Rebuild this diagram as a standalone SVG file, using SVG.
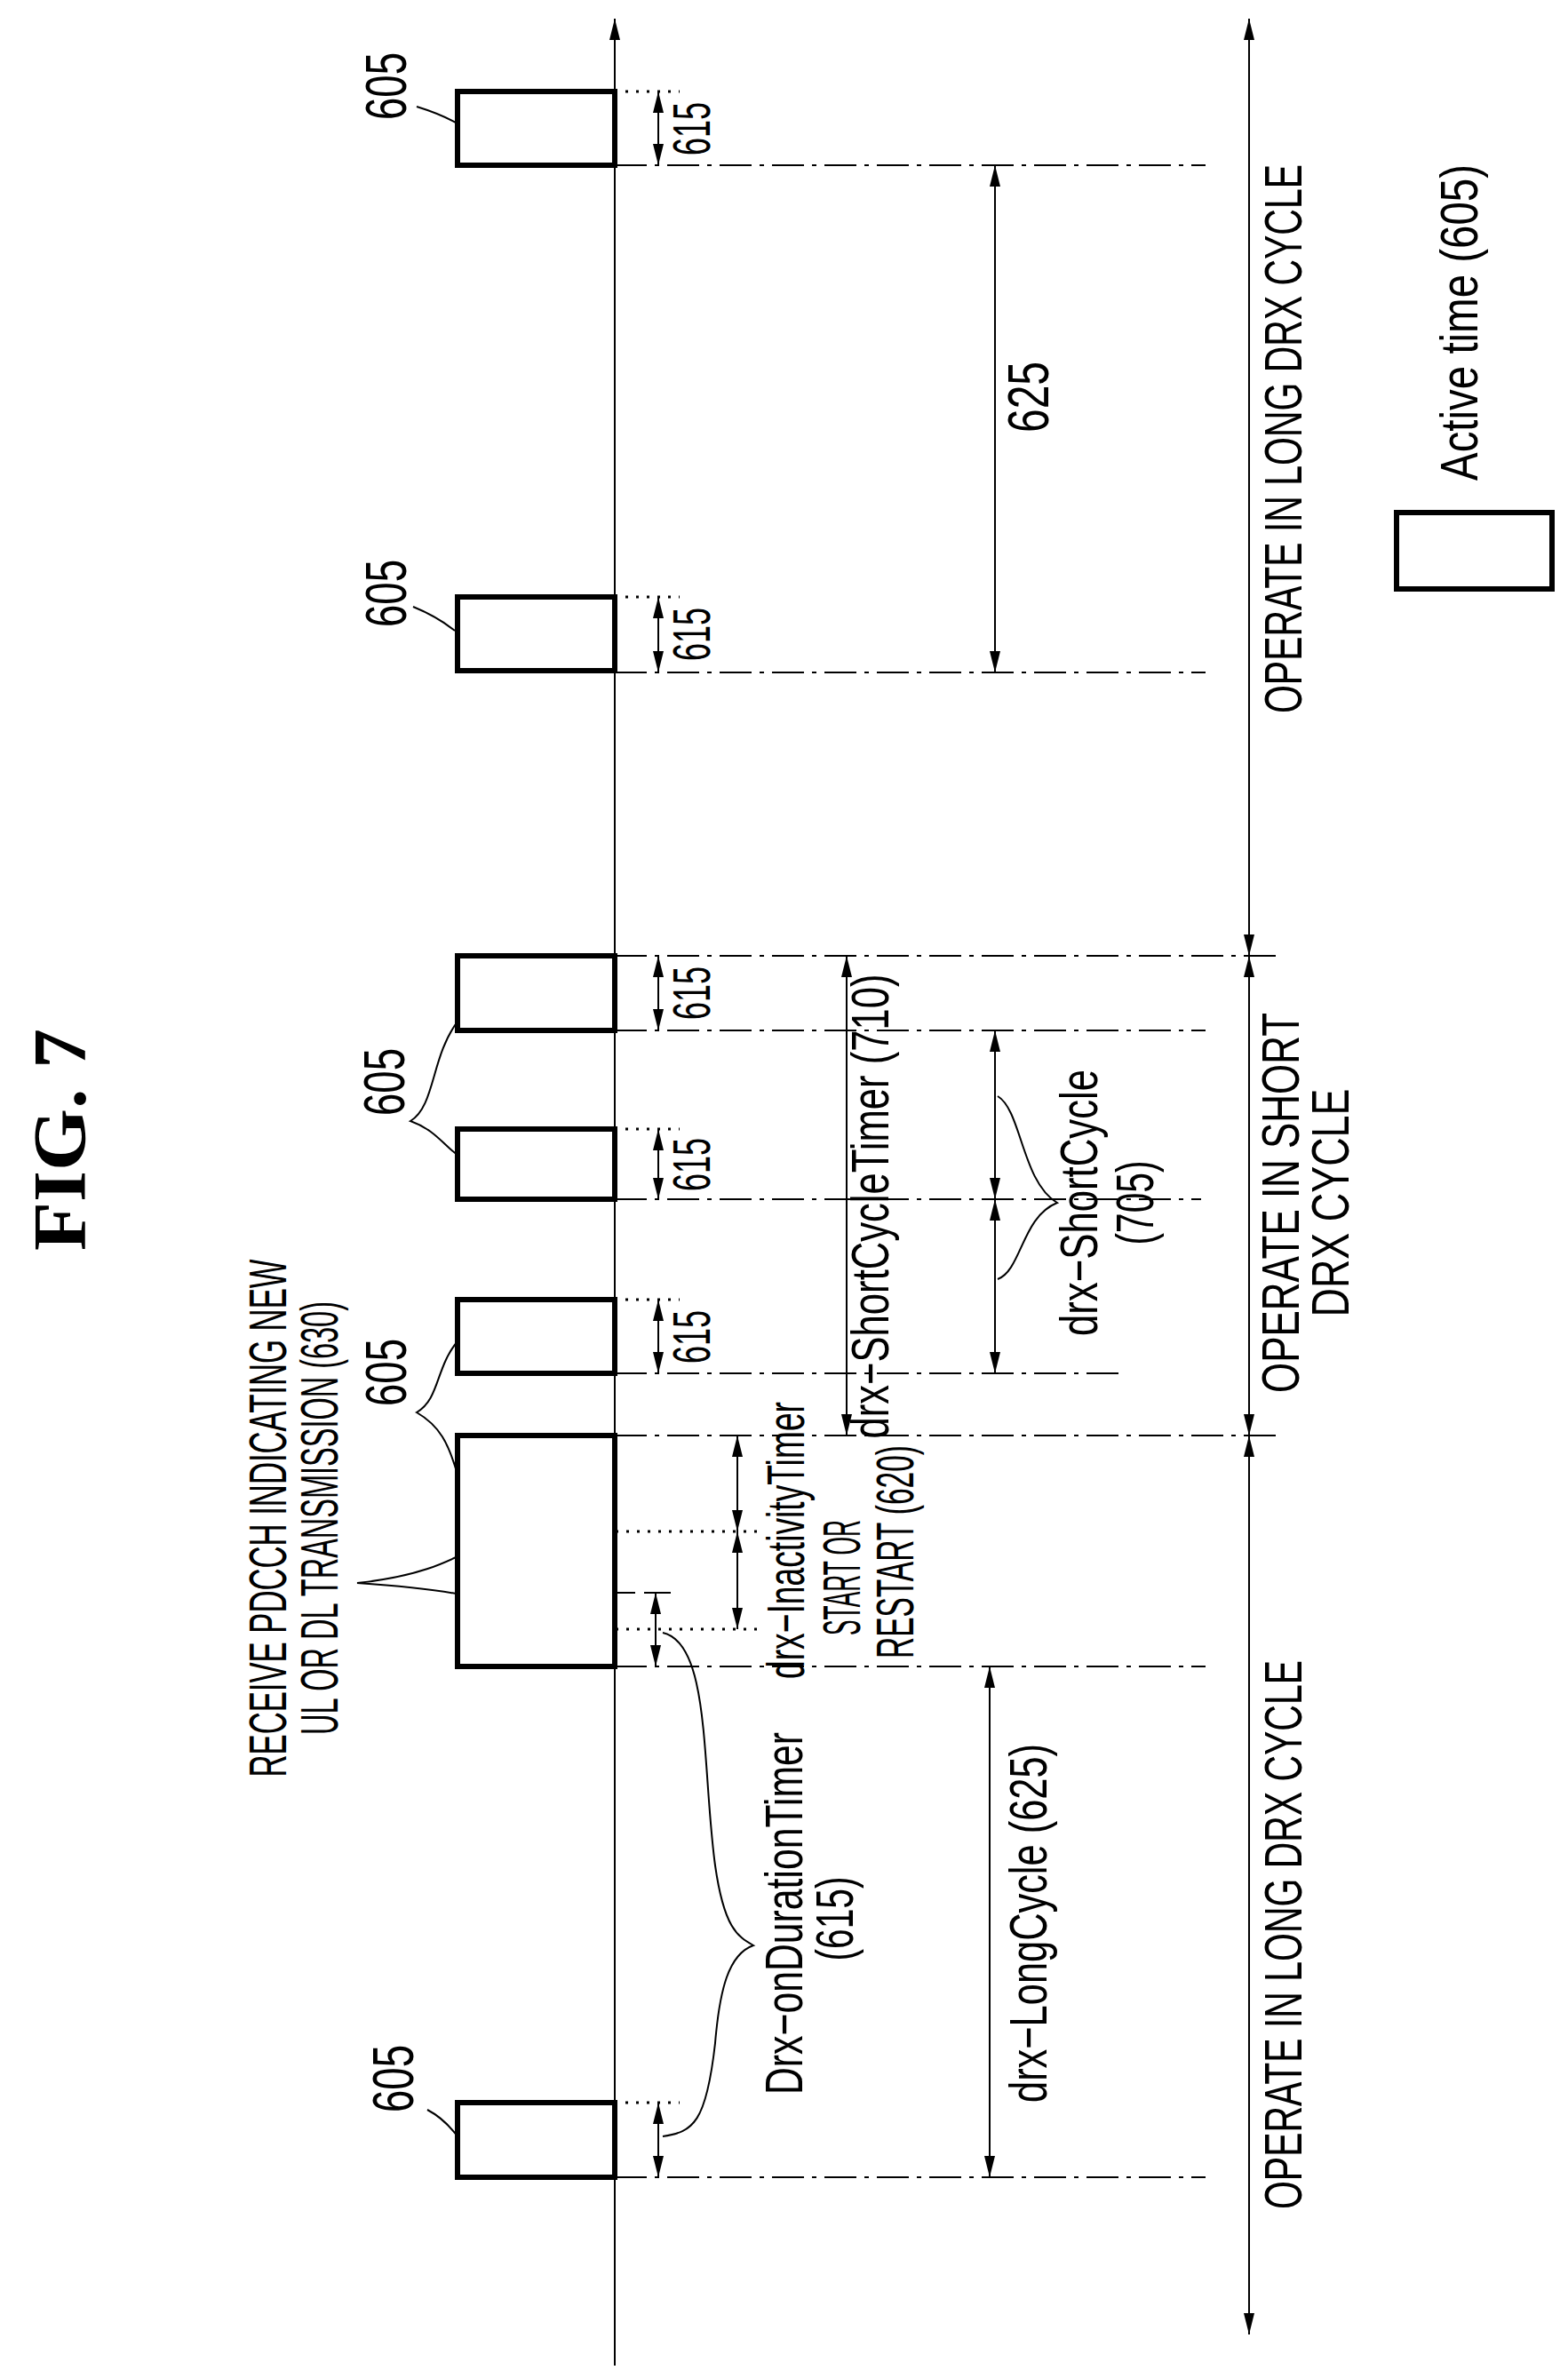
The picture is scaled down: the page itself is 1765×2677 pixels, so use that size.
<svg xmlns="http://www.w3.org/2000/svg" width="1765" height="2677" viewBox="0 0 1765 2677">
<defs>
<marker id="ah" viewBox="0 0 24 12" refX="24" refY="6" markerWidth="24" markerHeight="12" markerUnits="userSpaceOnUse" orient="auto-start-reverse"><path d="M0,0 L24,6 L0,12 Z" fill="#000"/></marker>
<style>
.t{font-family:"Liberation Sans",Arial,sans-serif;font-size:60px;fill:#000}
.n{font-size:64px}
.box{fill:#fff;stroke:#000;stroke-width:6}
.ln{stroke:#000;stroke-width:2;fill:none}
.dd{stroke:#000;stroke-width:2;stroke-dasharray:36 9 5 9;fill:none}
.dot{stroke:#000;stroke-width:3;stroke-dasharray:3 9;fill:none}
.da{stroke:#000;stroke-width:2;stroke-dasharray:30 10;fill:none}
.ar{stroke:#000;stroke-width:2;fill:none;marker-start:url(#ah);marker-end:url(#ah)}
</style>
</defs>
<rect width="1765" height="2677" fill="#fff"/>
<text class="t" style="font-family:'Liberation Serif',serif;font-weight:bold;font-size:84px" transform="translate(96,1283) rotate(-90)" text-anchor="middle" textLength="250" lengthAdjust="spacingAndGlyphs">FIG. 7</text>

<g id="connectors">
<line class="ln" x1="692" y1="2663" x2="692" y2="21" marker-end="url(#ah)"/>
<line class="ar" x1="1406" y1="21" x2="1406" y2="1076"/>
<line class="ar" x1="1406" y1="1076" x2="1406" y2="1616"/>
<line class="ar" x1="1406" y1="1616" x2="1406" y2="2628"/>
<path class="dd" d="M692,186H1357M692,757H1357M692,1076H1442M692,1160H1357M692,1350H1352M692,1546H1261M692,1616H1442M692,1876H1357M692,2451H1357"/>
<path class="dot" d="M692,103H765M692,672H765M692,1271H765M692,1463H765M692,2367H765"/>
<path class="dot" d="M525,1724H860M525,1834H860"/>
<path class="da" d="M525,1793H765"/>
<line class="ar" x1="741" y1="103" x2="741" y2="186"/>
<line class="ar" x1="741" y1="672" x2="741" y2="757"/>
<line class="ar" x1="741" y1="1076" x2="741" y2="1160"/>
<line class="ar" x1="741" y1="1271" x2="741" y2="1350"/>
<line class="ar" x1="741" y1="1463" x2="741" y2="1546"/>
<line class="ar" x1="738" y1="1793" x2="738" y2="1876"/>
<line class="ar" x1="741" y1="2367" x2="741" y2="2451"/>
<line class="ar" x1="1120" y1="186" x2="1120" y2="757"/>
<line class="ar" x1="1120" y1="1160" x2="1120" y2="1350"/>
<line class="ar" x1="1120" y1="1350" x2="1120" y2="1546"/>
<line class="ar" x1="953" y1="1076" x2="953" y2="1616"/>
<line class="ar" x1="830" y1="1616" x2="830" y2="1724"/>
<line class="ar" x1="830" y1="1724" x2="830" y2="1834"/>
<line class="ar" x1="1114" y1="1876" x2="1114" y2="2451"/>
<path class="ln" d="M469,120 Q495,128 515,139"/>
<path class="ln" d="M465,683 Q492,694 512,710"/>
<path class="ln" d="M515,1150 C485,1190 490,1245 462,1262 C490,1272 500,1290 515,1300"/>
<path class="ln" d="M515,1510 C490,1540 495,1575 469,1590 C495,1605 505,1625 515,1660"/>
<path class="ln" d="M481,2375 Q500,2385 515,2405"/>
<path class="ln" d="M588,1727 C530,1730 520,1770 402,1782 C520,1790 570,1800 594,1834"/>
<path class="ln" d="M746,1838 C800,1850 790,1990 805,2100 C815,2170 830,2180 848,2190 C820,2200 810,2240 805,2300 C795,2390 780,2400 746,2405"/>
<path class="ln" d="M1123,1234 C1150,1250 1150,1330 1190,1354 C1150,1370 1150,1430 1123,1440"/>
</g>

<g id="box1"><rect class="box" x="515" y="103" width="177" height="83"/></g>
<g id="box2"><rect class="box" x="515" y="672" width="177" height="83"/></g>
<g id="box3"><rect class="box" x="515" y="1076" width="177" height="84"/></g>
<g id="box4"><rect class="box" x="515" y="1271" width="177" height="79"/></g>
<g id="box5"><rect class="box" x="515" y="1463" width="177" height="83"/></g>
<g id="box6"><rect class="box" x="515" y="1616" width="177" height="260"/></g>
<g id="box7"><rect class="box" x="515" y="2367" width="177" height="84"/></g>
<g id="legend"><rect class="box" x="1572" y="577" width="175" height="86"/>
<text class="t" transform="translate(1663,363) rotate(-90)" text-anchor="middle" textLength="356" lengthAdjust="spacingAndGlyphs">Active time (605)</text></g>

<g id="labels">
<text class="t n" transform="translate(457,97) rotate(-90)" text-anchor="middle" textLength="76" lengthAdjust="spacingAndGlyphs">605</text>
<text class="t n" transform="translate(457,668) rotate(-90)" text-anchor="middle" textLength="76" lengthAdjust="spacingAndGlyphs">605</text>
<text class="t n" transform="translate(455,1218) rotate(-90)" text-anchor="middle" textLength="76" lengthAdjust="spacingAndGlyphs">605</text>
<text class="t n" transform="translate(457,1545) rotate(-90)" text-anchor="middle" textLength="76" lengthAdjust="spacingAndGlyphs">605</text>
<text class="t n" transform="translate(465,2340) rotate(-90)" text-anchor="middle" textLength="76" lengthAdjust="spacingAndGlyphs">605</text>
<text class="t" transform="translate(799,145) rotate(-90)" text-anchor="middle" textLength="60" lengthAdjust="spacingAndGlyphs">615</text>
<text class="t" transform="translate(799,714) rotate(-90)" text-anchor="middle" textLength="60" lengthAdjust="spacingAndGlyphs">615</text>
<text class="t" transform="translate(799,1118) rotate(-90)" text-anchor="middle" textLength="60" lengthAdjust="spacingAndGlyphs">615</text>
<text class="t" transform="translate(799,1311) rotate(-90)" text-anchor="middle" textLength="60" lengthAdjust="spacingAndGlyphs">615</text>
<text class="t" transform="translate(799,1505) rotate(-90)" text-anchor="middle" textLength="60" lengthAdjust="spacingAndGlyphs">615</text>
<text class="t n" transform="translate(1180,447) rotate(-90)" text-anchor="middle" textLength="80" lengthAdjust="spacingAndGlyphs">625</text>
<text class="t" transform="translate(322,1709) rotate(-90)" text-anchor="middle" textLength="583" lengthAdjust="spacingAndGlyphs">RECEIVE PDCCH INDICATING NEW</text>
<text class="t" transform="translate(380,1709) rotate(-90)" text-anchor="middle" textLength="488" lengthAdjust="spacingAndGlyphs">UL OR DL TRANSMISSION (630)</text>
<text class="t" transform="translate(903,2154) rotate(-90)" text-anchor="middle" textLength="408" lengthAdjust="spacingAndGlyphs">Drx−onDurationTimer</text>
<text class="t" transform="translate(960,2160) rotate(-90)" text-anchor="middle" textLength="95" lengthAdjust="spacingAndGlyphs">(615)</text>
<text class="t" transform="translate(905,1734) rotate(-90)" text-anchor="middle" textLength="312" lengthAdjust="spacingAndGlyphs">drx−InactivityTimer</text>
<text class="t" transform="translate(968,1776) rotate(-90)" text-anchor="middle" textLength="130" lengthAdjust="spacingAndGlyphs">START OR</text>
<text class="t" transform="translate(1028,1747) rotate(-90)" text-anchor="middle" textLength="240" lengthAdjust="spacingAndGlyphs">RESTART (620)</text>
<text class="t" transform="translate(1000,1358) rotate(-90)" text-anchor="middle" textLength="523" lengthAdjust="spacingAndGlyphs">drx−ShortCycleTimer (710)</text>
<text class="t" transform="translate(1235,1354) rotate(-90)" text-anchor="middle" textLength="300" lengthAdjust="spacingAndGlyphs">drx−ShortCycle</text>
<text class="t" transform="translate(1298,1354) rotate(-90)" text-anchor="middle" textLength="95" lengthAdjust="spacingAndGlyphs">(705)</text>
<text class="t" transform="translate(1178,2165) rotate(-90)" text-anchor="middle" textLength="404" lengthAdjust="spacingAndGlyphs">drx−LongCycle (625)</text>
<text class="t" transform="translate(1465,494) rotate(-90)" text-anchor="middle" textLength="618" lengthAdjust="spacingAndGlyphs">OPERATE IN LONG DRX CYCLE</text>
<text class="t" transform="translate(1465,2178) rotate(-90)" text-anchor="middle" textLength="618" lengthAdjust="spacingAndGlyphs">OPERATE IN LONG DRX CYCLE</text>
<text class="t" transform="translate(1462,1354) rotate(-90)" text-anchor="middle" textLength="428" lengthAdjust="spacingAndGlyphs">OPERATE IN SHORT</text>
<text class="t" transform="translate(1518,1354) rotate(-90)" text-anchor="middle" textLength="257" lengthAdjust="spacingAndGlyphs">DRX CYCLE</text>
</g>
</svg>
